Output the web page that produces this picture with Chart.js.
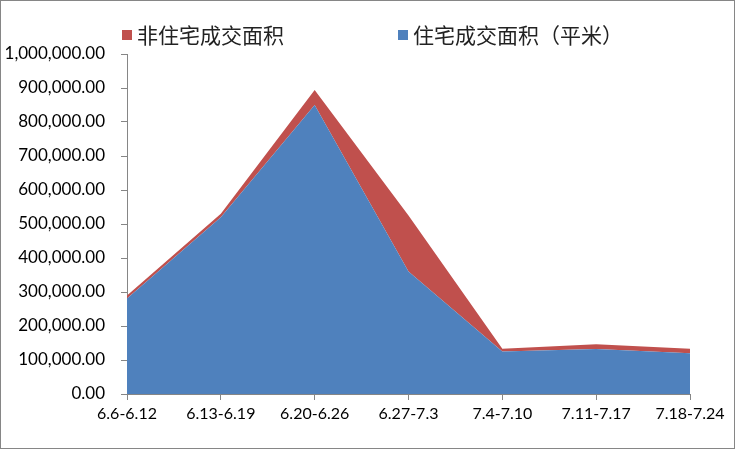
<!DOCTYPE html>
<html>
<head>
<meta charset="utf-8">
<script src="https://cdn.jsdelivr.net/npm/chart.js@4"></script>
<style>
  html, body { margin: 0; padding: 0; background: #fff; }
  #wrap { width: 735px; height: 449px; position: relative; }
</style>
</head>
<body>
<div id="wrap"><canvas id="c" width="735" height="449"></canvas></div>
<script>
const categories = ["6.6-6.12", "6.13-6.19", "6.20-6.26", "6.27-7.3", "7.4-7.10", "7.11-7.17", "7.18-7.24"];
const residential = [281000, 520000, 850000, 360000, 125000, 132000, 120000];
const nonResidential = [9000, 10000, 44000, 165000, 8000, 14000, 13000];
const seriesNames = ["住宅成交面积（平米）", "非住宅成交面积"];
const yTicks = [0, 100000, 200000, 300000, 400000, 500000, 600000, 700000, 800000, 900000, 1000000];

const BLUE = "#4F81BD", RED = "#C0504D", AXIS = "#868686";
const xFont = { family: "Lato, 'Liberation Sans', sans-serif", size: 16 };
const yFont = { family: "Lato, 'Liberation Sans', sans-serif", size: 17 };

const legendPlugin = {
  id: "customLegend",
  afterDraw(chart) {
    const ctx = chart.ctx;
    ctx.save();
    const items = [
      { text: seriesNames[1], color: RED, x: 122 },
      { text: seriesNames[0], color: BLUE, x: 398 }
    ];
    ctx.font = "21px 'Noto Sans CJK SC', sans-serif";
    ctx.textBaseline = "middle";
    items.forEach(it => {
      ctx.fillStyle = it.color;
      ctx.fillRect(it.x, 30, 10, 10);
      ctx.fillStyle = "#222";
      ctx.fillText(it.text, it.x + 15, 35);
    });
    ctx.strokeStyle = AXIS;
    ctx.lineWidth = 1;
    ctx.strokeRect(0.5, 0.5, chart.width - 1, chart.height - 1);
    ctx.restore();
  }
};

new Chart(document.getElementById("c"), {
  type: "line",
  data: {
    labels: categories,
    datasets: [
      { label: seriesNames[0], data: residential, backgroundColor: BLUE, borderColor: BLUE, borderWidth: 0, pointRadius: 0, fill: "origin", tension: 0 },
      { label: seriesNames[1], data: nonResidential, backgroundColor: RED, borderColor: RED, borderWidth: 0, pointRadius: 0, fill: "-1", tension: 0 }
    ]
  },
  options: {
    responsive: false,
    animation: false,
    layout: { padding: { left: 0, right: 45, top: 54, bottom: 0 } },
    plugins: { legend: { display: false }, tooltip: { enabled: false } },
    scales: {
      x: {
        offset: false,
        grid: { display: true, drawOnChartArea: false, drawTicks: true, tickLength: 6, color: AXIS },
        border: { color: AXIS },
        ticks: { font: xFont, color: "#000", padding: 4, maxRotation: 0, autoSkip: false },
        afterFit(scale) { scale.height = 55; }
      },
      y: {
        stacked: true,
        min: 0, max: 1000000,
        afterBuildTicks(scale) { scale.ticks = yTicks.map(v => ({ value: v })); },
        grid: { display: true, drawOnChartArea: false, drawTicks: true, tickLength: 6, color: AXIS },
        border: { color: AXIS },
        ticks: {
          font: yFont, color: "#000", padding: 16,
          callback: v => Number(v).toLocaleString("en-US", { minimumFractionDigits: 2, maximumFractionDigits: 2 })
        },
        afterFit(scale) { scale.width = 127; }
      }
    }
  },
  plugins: [legendPlugin]
});
</script>
</body>
</html>
